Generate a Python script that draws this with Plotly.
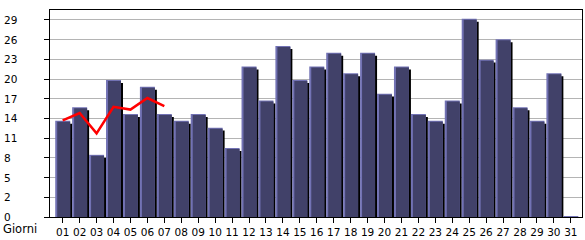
import plotly.graph_objects as go

# ---- data ----
days = list(range(1, 32))
day_labels = [f"{d:02d}" for d in days]
visits = [14, 16, 9, 20, 15, 19, 15, 14, 15, 13, 10, 22, 17, 25, 20, 22,
          24, 21, 24, 18, 22, 15, 14, 17, 29, 23, 26, 16, 14, 21, 0]
trend_days = [1, 2, 3, 4, 5, 6, 7]
trend_vals = [14.2, 15.3, 12.3, 16.2, 15.8, 17.5, 16.3]
y_tick_labels = ["0", "2", "5", "8", "11", "14", "17", "20", "23", "26", "29"]
x_title = "Giorni"

# ---- geometry / style (derived) ----
W, H = 585, 240
ML, MR, MT, MB = 50, 2, 10, 20
ymax = max(visits)
step = ymax / 10.0
y_range = [0, ymax + step / 2]
x_range = [0.25, 31.66]
px_x = (x_range[1] - x_range[0]) / (W - ML - MR)   # data units per px (x)
px_y = (y_range[1] - y_range[0]) / (H - MT - MB)   # data units per px (y)
tick_vals = [k * step for k in range(len(y_tick_labels))]

FACE = "#414169"
HILITE = "#7272b4"
SHADOW = "#000000"
FONT = "DejaVu Sans"

fig = go.Figure()

# shadow (offset 2px right, 2px down)
fig.add_trace(go.Bar(
    x=days, y=[max(v - 2 * px_y, 0) for v in visits],
    offset=-5.5 * px_x, width=15 * px_x,
    marker=dict(color=SHADOW, line=dict(width=0)),
    hoverinfo="skip", showlegend=False))
# highlight (1px above value)
fig.add_trace(go.Bar(
    x=days, y=[v + 1 * px_y for v in visits],
    offset=-7.5 * px_x, width=15 * px_x,
    marker=dict(color=HILITE, line=dict(width=0)),
    hoverinfo="skip", showlegend=False))
# face
fig.add_trace(go.Bar(
    x=days, y=visits,
    offset=-5.5 * px_x, width=13 * px_x,
    marker=dict(color=FACE, line=dict(width=0)),
    showlegend=False))
# trend line
fig.add_trace(go.Scatter(
    x=trend_days, y=trend_vals, mode="lines",
    line=dict(color="#ff0000", width=2.5),
    showlegend=False))

annotations = []
for v, t in zip(tick_vals, y_tick_labels):
    annotations.append(dict(
        text=t, xref="paper", yref="y",
        x=(2 - ML) / (W - ML - MR), y=v,
        xanchor="left", yanchor="middle", showarrow=False,
        font=dict(family=FONT, size=10.5, color="black")))
annotations.append(dict(
    text=x_title, xref="paper", yref="paper",
    x=(1 - ML) / (W - ML - MR), y=-(232 - (H - MB)) / (H - MT - MB),
    xanchor="left", yanchor="middle", showarrow=False,
    font=dict(family=FONT, size=11.5, color="black")))

fig.update_layout(
    width=W, height=H, autosize=False,
    margin=dict(l=ML, r=MR, t=MT, b=MB, pad=0),
    paper_bgcolor="white", plot_bgcolor="white",
    barmode="overlay",
    font=dict(family=FONT, size=10.5, color="black"),
    annotations=annotations,
    xaxis=dict(
        range=x_range, tickmode="array", tickvals=days, ticktext=day_labels,
        ticks="outside", ticklen=5, tickcolor="black", tickwidth=1,
        showgrid=False, zeroline=False,
        showline=True, mirror=True, linecolor="black", linewidth=1,
        tickfont=dict(family=FONT, size=10.5, color="black"), fixedrange=True),
    yaxis=dict(
        range=y_range, tickmode="array", tickvals=tick_vals,
        showticklabels=False,
        ticks="outside", ticklen=5, tickcolor="black", tickwidth=1,
        showgrid=True, gridcolor="#b4b4b4", gridwidth=1, zeroline=False,
        showline=True, mirror=True, linecolor="black", linewidth=1,
        fixedrange=True),
)

fig.write_html("out.html", config={"displayModeBar": False})
